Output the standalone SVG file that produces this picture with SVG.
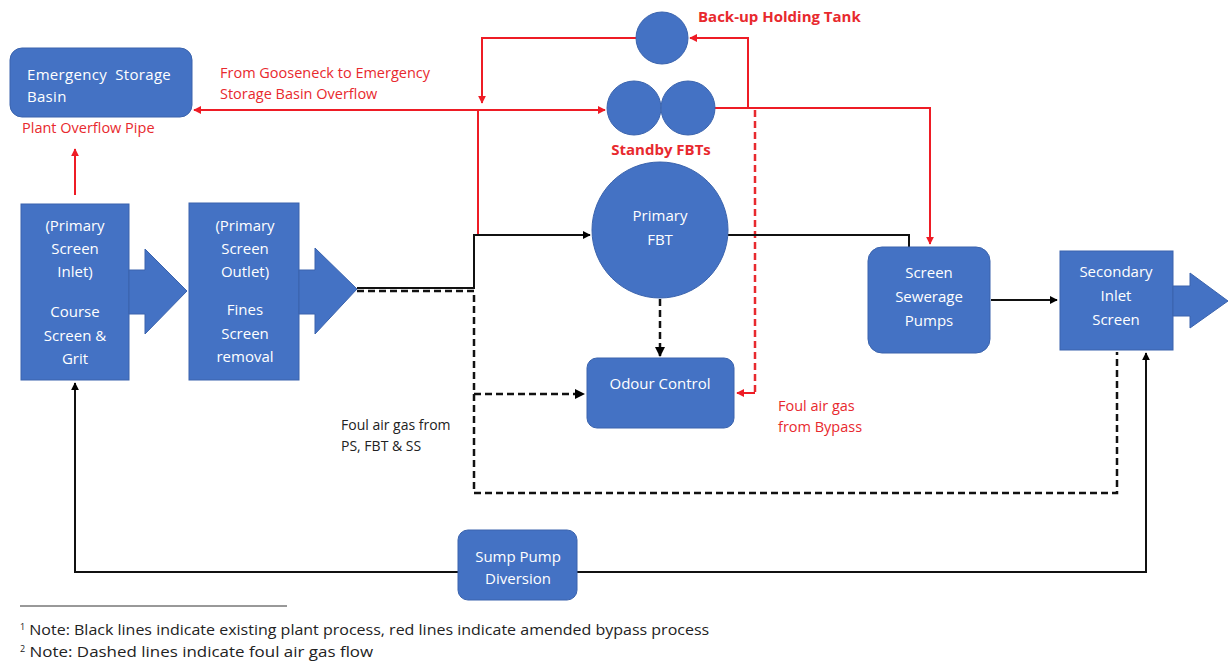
<svg xmlns="http://www.w3.org/2000/svg" width="1228" height="662" viewBox="0 0 1228 662">
<defs>
<marker id="ab" viewBox="0 0 10 10" refX="9" refY="5" markerWidth="4" markerHeight="4" orient="auto" markerUnits="strokeWidth"><path d="M0,0 L10,5 L0,10 z" fill="#000"/></marker>
<marker id="ar" viewBox="0 0 10 10" refX="9" refY="5" markerWidth="4" markerHeight="4" orient="auto" markerUnits="strokeWidth"><path d="M0,0 L10,5 L0,10 z" fill="#ee1c25"/></marker>
</defs>
<style>
.box{fill:#4472c4;stroke:#3a63ad;stroke-width:1}
.bt{fill:#fff;font-family:"Open Sans","Liberation Sans",Arial,sans-serif;font-size:15px;text-anchor:middle}
.bl{fill:#fff;font-family:"Open Sans","Liberation Sans",Arial,sans-serif;font-size:15px;letter-spacing:0.3px}
.rl{fill:#e8292e;font-family:"Open Sans","Liberation Sans",Arial,sans-serif;font-size:14.5px}
.rb{fill:#e8292e;font-family:"Open Sans","Liberation Sans",Arial,sans-serif;font-size:15px;font-weight:bold}
.kl{fill:#222;font-family:"Open Sans","Liberation Sans",Arial,sans-serif;font-size:14px}
.k{fill:none;stroke:#111;stroke-width:2}
.kd{fill:none;stroke:#111;stroke-width:2.5;stroke-dasharray:7,4}
.r{fill:none;stroke:#ee1c25;stroke-width:2}
.rd{fill:none;stroke:#e8292e;stroke-width:2.5;stroke-dasharray:7,4}
</style>
<rect width="1228" height="662" fill="#fff"/>

<g id="connectors">
<path class="r" d="M75,195 L75,149" marker-end="url(#ar)"/>
<path class="r" d="M478,235 L478,110 L194,110" marker-end="url(#ar)"/>
<path class="r" d="M478,110 L605,110" marker-end="url(#ar)"/>
<path class="r" d="M636,38 L482,38 L482,103" marker-end="url(#ar)"/>
<path class="r" d="M714,108 L748,108 L748,38 L690,38" marker-end="url(#ar)"/>
<path class="r" d="M748,108 L930,108 L930,244" marker-end="url(#ar)"/>
<path class="rd" d="M755,110 L755,393"/>
<path class="r" d="M755,393 L737,393" marker-end="url(#ar)"/>
<path class="k" d="M357,288 L474,288 L474,235 L590,235" marker-end="url(#ab)"/>
<path class="k" d="M728,235 L909,235 L909,247"/>
<path class="k" d="M991,300 L1057,300" marker-end="url(#ab)"/>
<path class="k" d="M458,572 L75,572 L75,383" marker-end="url(#ab)"/>
<path class="k" d="M577,572 L1146,572 L1146,353" marker-end="url(#ab)"/>
<path class="kd" d="M357,291 L474,291 L474,493 L1117,493 L1117,352"/>
<path class="kd" d="M474,394 L584,394" marker-end="url(#ab)"/>
<path class="kd" d="M660,299 L660,356" marker-end="url(#ab)"/>
</g>

<g id="emergency-storage-basin">
<rect class="box" x="10" y="48" width="182" height="69" rx="12"/>
<text class="bl" x="27" y="80">Emergency&#160; Storage</text>
<text class="bl" x="27" y="102">Basin</text>
</g>
<text class="rl" x="220" y="78">From Gooseneck to Emergency</text>
<text class="rl" x="220" y="99">Storage Basin Overflow</text>
<text class="rl" x="22" y="133">Plant Overflow Pipe</text>

<g id="primary-screen-inlet">
<rect class="box" x="21" y="204" width="108" height="176"/>
<path class="box" d="M129,270 L145,270 L145,249 L187,291 L145,334 L145,314 L129,314 z" stroke="none"/>
<text class="bt" x="75" y="231">(Primary</text>
<text class="bt" x="75" y="254">Screen</text>
<text class="bt" x="75" y="277">Inlet)</text>
<text class="bt" x="75" y="317">Course</text>
<text class="bt" x="75" y="341">Screen &amp;</text>
<text class="bt" x="75" y="364">Grit</text>
</g>

<g id="primary-screen-outlet">
<rect class="box" x="189" y="203" width="110" height="177"/>
<path class="box" d="M299,270 L315,270 L315,248 L357,289 L315,334 L315,314 L299,314 z" stroke="none"/>
<text class="bt" x="245" y="231">(Primary</text>
<text class="bt" x="245" y="254">Screen</text>
<text class="bt" x="245" y="277">Outlet)</text>
<text class="bt" x="245" y="315">Fines</text>
<text class="bt" x="245" y="339">Screen</text>
<text class="bt" x="245" y="362">removal</text>
</g>

<g id="backup-holding-tank">
<circle class="box" cx="662" cy="38" r="26"/>
<text class="rb" x="698" y="22">Back-up Holding Tank</text>
</g>

<g id="standby-fbts">
<circle class="box" cx="634" cy="108" r="27"/>
<circle class="box" cx="688" cy="108" r="27"/>
<text class="rb" x="661" y="155" text-anchor="middle" font-size="14.5">Standby FBTs</text>
</g>

<g id="primary-fbt">
<circle class="box" cx="660" cy="230" r="68"/>
<text class="bt" x="660" y="221">Primary</text>
<text class="bt" x="660" y="245">FBT</text>
</g>

<g id="odour-control">
<rect class="box" x="587" y="358" width="147" height="70" rx="10"/>
<text class="bt" x="660" y="389">Odour Control</text>
</g>
<text class="kl" x="341" y="430">Foul air gas from</text>
<text class="kl" x="341" y="451">PS, FBT &amp; SS</text>
<text class="rl" x="778" y="411" font-size="14">Foul air gas</text>
<text class="rl" x="778" y="432" font-size="14">from Bypass</text>

<g id="screen-sewerage-pumps">
<rect class="box" x="868" y="247" width="122" height="106" rx="14"/>
<text class="bt" x="929" y="278">Screen</text>
<text class="bt" x="929" y="302">Sewerage</text>
<text class="bt" x="929" y="326">Pumps</text>
</g>

<g id="secondary-inlet-screen">
<rect class="box" x="1060" y="251" width="113" height="99"/>
<path class="box" d="M1173,286 L1190,286 L1190,273 L1228,301 L1190,328 L1190,316 L1173,316 z" stroke="none"/>
<text class="bt" x="1116" y="277">Secondary</text>
<text class="bt" x="1116" y="301">Inlet</text>
<text class="bt" x="1116" y="325">Screen</text>
</g>

<g id="sump-pump-diversion">
<rect class="box" x="458" y="530" width="119" height="70" rx="10"/>
<text class="bt" x="518" y="562">Sump Pump</text>
<text class="bt" x="518" y="584">Diversion</text>
</g>

<g id="notes">
<line x1="20" y1="606" x2="287" y2="606" stroke="#333" stroke-width="1"/>
<text class="kl" x="20" y="635" font-size="15"><tspan font-size="9" dy="-5">1</tspan><tspan dy="5" textLength="684" lengthAdjust="spacingAndGlyphs"> Note: Black lines indicate existing plant process, red lines indicate amended bypass process</tspan></text>
<text class="kl" x="20" y="657" font-size="15"><tspan font-size="9" dy="-5">2</tspan><tspan dy="5" textLength="348" lengthAdjust="spacingAndGlyphs"> Note: Dashed lines indicate foul air gas flow</tspan></text>
</g>
</svg>
